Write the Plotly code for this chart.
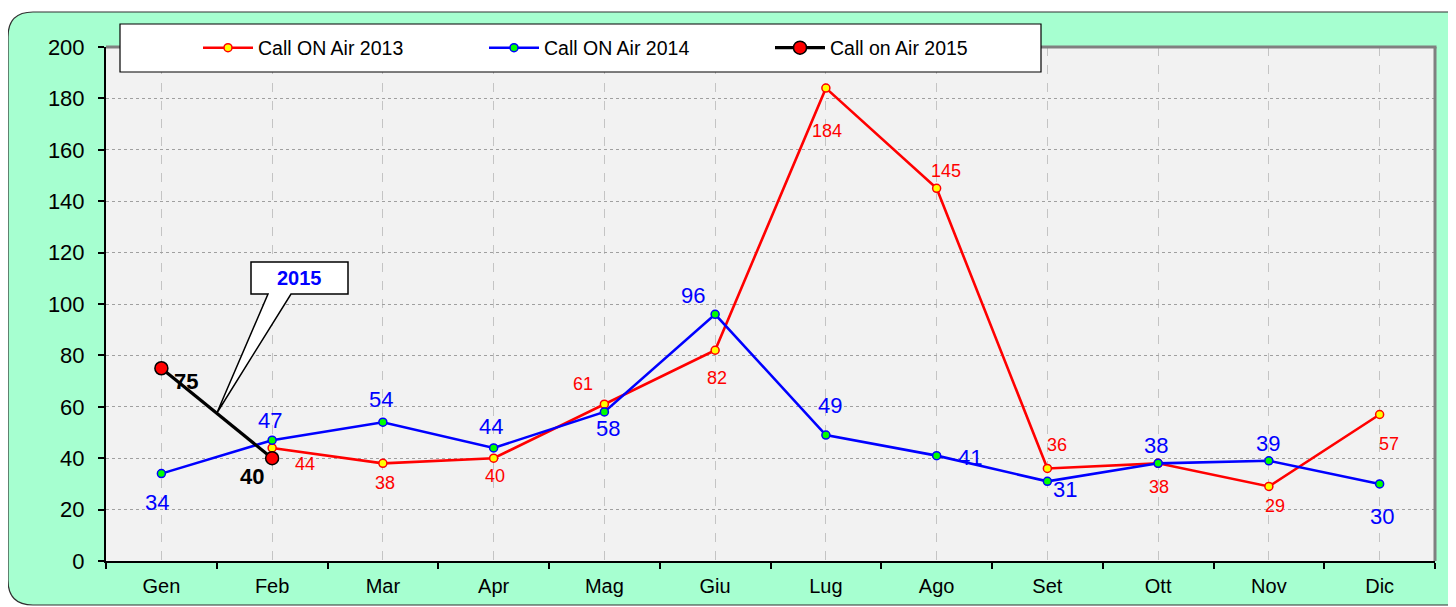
import plotly.graph_objects as go

# ---------------- data ----------------
months = ["Gen", "Feb", "Mar", "Apr", "Mag", "Giu", "Lug", "Ago", "Set", "Ott", "Nov", "Dic"]
calls_2013 = [None, 44, 38, 40, 61, 82, 184, 145, 36, 38, 29, 57]
calls_2014 = [34, 47, 54, 44, 58, 96, 49, 41, 31, 38, 39, 30]
calls_2015 = [75, 40]
series_names = ["Call ON Air 2013", "Call ON Air 2014", "Call on Air 2015"]
y_ticks = [0, 20, 40, 60, 80, 100, 120, 140, 160, 180, 200]
callout_text = "2015"

# ---------------- style: label offsets (px, right / down) ----------------
off_2013 = [None, (33, 16), (2, 20), (1, 18), (-21, -20), (2, 28), (1, 43),
            (9, -17), (10, -23), (1, 24), (6, 20), (9, 29)]
off_2014 = [(-4, 29), (-2, -20), (-2, -23), (-3, -21), (4, 17), (-22, -19),
            (4, -30), (33, 2), (18, 8), (-2, -18), (-1, -17), (2, 33)]
off_2015 = [(25, 13), (-20, 18)]

FONT = "Liberation Sans, Arial, sans-serif"
PAGE_OFF = 8  # default body margin of the html page
W, H = 1456 - PAGE_OFF, 607 - PAGE_OFF
L, R, T, B = 106, 1435, 47, 561  # plot area in screen pixels
PW, PH = R - L, B - T
n = len(months)
xs = list(range(n))


def pxx(px):
    return (px - L) / PW


def pxy(py):
    return (B - py) / PH


def dx(px):
    return (px - L) / PW * n - 0.5


def dy(py):
    return (B - py) / PH * 200


fig = go.Figure()

fig.add_trace(go.Scatter(
    x=xs, y=calls_2013, name=series_names[0], mode="lines+markers",
    line=dict(color="#FF0000", width=2.6),
    marker=dict(size=8, color="#FFFF00", line=dict(color="#FF0000", width=1.5)),
    connectgaps=False, cliponaxis=False))
fig.add_trace(go.Scatter(
    x=xs, y=calls_2014, name=series_names[1], mode="lines+markers",
    line=dict(color="#0000FF", width=2.6),
    marker=dict(size=8, color="#00FF00", line=dict(color="#0000FF", width=1.5)),
    cliponaxis=False))
fig.add_trace(go.Scatter(
    x=xs[:len(calls_2015)], y=calls_2015, name=series_names[2], mode="lines+markers",
    line=dict(color="#000000", width=3.2),
    marker=dict(size=13, color="#FF0000", line=dict(color="#000000", width=1.5)),
    cliponaxis=False))

annotations = []


def add_labels(values, offsets, color, size, bold=False):
    for i, v in enumerate(values):
        if v is None:
            continue
        ox, oy = offsets[i]
        txt = f"<b>{v}</b>" if bold else str(v)
        annotations.append(dict(
            x=xs[i], y=v, xref="x", yref="y", text=txt, showarrow=False,
            xshift=ox, yshift=-oy,
            font=dict(family=FONT, size=size, color=color)))


add_labels(calls_2013, off_2013, "#FF0000", 18)
add_labels(calls_2014, off_2014, "#0000FF", 22)
add_labels(calls_2015, off_2015, "#000000", 22, bold=True)

# callout
tip_x = (xs[0] + xs[1]) / 2
tip_y = (calls_2015[0] + calls_2015[1]) / 2
bx0, bx1, by0, by1 = 251, 348, 262, 294
pl, pr = 268, 291
call_path = (f"M {dx(bx0)},{dy(by0)} L {dx(bx1)},{dy(by0)} L {dx(bx1)},{dy(by1)} "
             f"L {dx(pr)},{dy(by1)} L {tip_x},{tip_y} L {dx(pl)},{dy(by1)} "
             f"L {dx(bx0)},{dy(by1)} Z")
annotations.append(dict(
    x=dx((bx0 + bx1) / 2), y=dy((by0 + by1) / 2), xref="x", yref="y",
    text=f"<b>{callout_text}</b>", showarrow=False,
    font=dict(family=FONT, size=20, color="#0000FF")))

# outer rounded rect
ox0, oy0, ox1, oy1, rr = 8, 12, 1480, 605, 25


def P(px, py):
    return f"{pxx(px)},{pxy(py)}"


outer_path = (f"M {P(ox0 + rr, oy0)} L {P(ox1 - rr, oy0)} Q {P(ox1, oy0)} {P(ox1, oy0 + rr)} "
              f"L {P(ox1, oy1 - rr)} Q {P(ox1, oy1)} {P(ox1 - rr, oy1)} "
              f"L {P(ox0 + rr, oy1)} Q {P(ox0, oy1)} {P(ox0, oy1 - rr)} "
              f"L {P(ox0, oy0 + rr)} Q {P(ox0, oy0)} {P(ox0 + rr, oy0)} Z")

shapes = [
    dict(type="path", path=outer_path, xref="paper", yref="paper",
         fillcolor="#A6FFD0", line=dict(color="#303030", width=1.2), layer="below"),
    dict(type="rect", x0=0, x1=1, y0=0, y1=1, xref="paper", yref="paper",
         fillcolor="#F2F2F2", line=dict(width=0), layer="below"),
    # plot frame top / right (grey)
    dict(type="line", x0=0, x1=1 + 1.5 / PW, y0=1, y1=1, xref="paper", yref="paper",
         line=dict(color="#808080", width=3)),
    dict(type="line", x0=1, x1=1, y0=0, y1=1, xref="paper", yref="paper",
         line=dict(color="#808080", width=3)),
    # legend box
    dict(type="rect", x0=pxx(120), x1=pxx(1041), y0=pxy(72), y1=pxy(24),
         xref="paper", yref="paper", fillcolor="#FFFFFF",
         line=dict(color="#000000", width=1.2)),
    # callout
    dict(type="path", path=call_path, xref="x", yref="y", fillcolor="#FFFFFF",
         line=dict(color="#000000", width=1.5)),
]

fig.update_layout(
    width=W, height=H,
    margin=dict(l=L - PAGE_OFF, r=1456 - R, t=T - PAGE_OFF, b=607 - B),
    paper_bgcolor="#FFFFFF", plot_bgcolor="rgba(0,0,0,0)",
    font=dict(family=FONT, color="#000000"),
    showlegend=True,
    legend=dict(orientation="h", x=pxx(198), xanchor="left", y=pxy(48), yanchor="middle",
                bgcolor="rgba(0,0,0,0)", borderwidth=0, itemwidth=50,
                font=dict(family=FONT, size=19.5, color="#000000"),
                entrywidth=221, entrywidthmode="pixels", itemclick=False),
    xaxis=dict(range=[-0.5, n - 0.5], tickmode="array", tickvals=xs, ticktext=months,
               ticks="", showgrid=True, gridcolor="#C4C4C4", griddash="dash", gridwidth=1,
               showline=True, linecolor="#000000", linewidth=2, zeroline=False,
               automargin=False,
               tickfont=dict(family=FONT, size=20, color="#000000"),
               ticklabelstandoff=6,
               minor=dict(tickmode="array", tickvals=[i - 0.5 for i in range(n + 1)],
                          ticks="outside", ticklen=6, tickcolor="#000000", tickwidth=1.5,
                          showgrid=False)),
    yaxis=dict(range=[0, 200], tickmode="array", tickvals=y_ticks,
               ticks="outside", ticklen=6, tickcolor="#000000", tickwidth=1.5,
               showgrid=True, gridcolor="#A0A0A0", griddash="dot", gridwidth=1,
               showline=True, linecolor="#000000", linewidth=2, zeroline=False,
               automargin=False,
               tickfont=dict(family=FONT, size=22, color="#000000"),
               ticklabelstandoff=9),
    shapes=shapes,
    annotations=annotations,
)

fig.write_html("out.html", config={"displayModeBar": False})
